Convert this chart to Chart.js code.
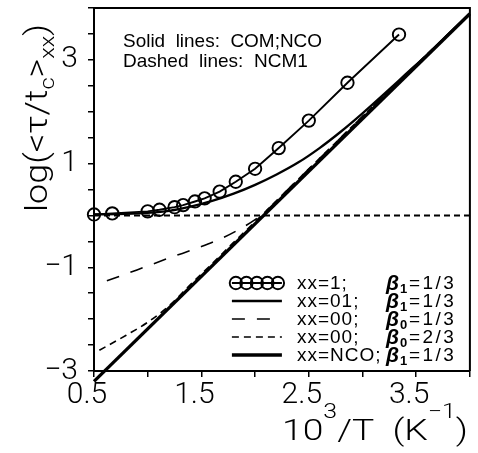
<!DOCTYPE html>
<html><head><meta charset="utf-8">
<script src="https://cdn.jsdelivr.net/npm/chart.js@4.4.0/dist/chart.umd.min.js"></script>
<style>html,body{margin:0;padding:0;background:#fff;}canvas{display:block;}</style>
</head><body>
<canvas id="c" width="478" height="453" style="width:478px;height:453px"></canvas>
<script>
// ---- data ----
const circleX = [0.5, 0.67, 1.0, 1.11, 1.25, 1.33, 1.44, 1.53, 1.67, 1.82, 2.0, 2.22, 2.50, 2.86, 3.34];
const circleY = [0.02, 0.04, 0.08, 0.11, 0.16, 0.20, 0.27, 0.33, 0.46, 0.65, 0.90, 1.30, 1.83, 2.56, 3.49];

const x01X = [0.5, 0.8, 1.0, 1.2, 1.4, 1.6, 1.8, 2.0, 2.2, 2.4, 2.6, 2.8, 3.0, 3.2, 3.4, 3.6, 3.8, 4.0];
const x01Y = [0.02, 0.03, 0.05, 0.09, 0.17, 0.28, 0.42, 0.59, 0.79, 1.02, 1.30, 1.62, 1.97, 2.34, 2.72, 3.10, 3.50, 3.90];

const longDashX = [0.62, 0.9, 1.2, 1.5, 1.7, 1.85, 2.0, 2.1, 2.3, 2.6, 3.0, 3.4, 3.8, 4.0];
const longDashY = [-1.26, -1.05, -0.82, -0.60, -0.43, -0.27, -0.08, 0.08, 0.49, 1.10, 1.91, 2.71, 3.50, 3.90];

const shortDashX = [0.55, 0.8, 1.0, 1.2, 1.4, 1.6, 1.8, 2.0, 2.3, 2.6, 3.0, 3.4, 3.8, 4.0];
const shortDashY = [-2.60, -2.31, -2.06, -1.74, -1.33, -0.93, -0.52, -0.12, 0.49, 1.10, 1.91, 2.71, 3.50, 3.90];

const ncoX = [0.5, 4.0];
const ncoY = [-3.2, 3.89];

const ncm1OneX = [0.5, 4.0];
const ncm1OneY = [0, 0];

const xTickLabels = {'0.5':'0.5','1.5':'1.5','2.5':'2.5','3.5':'3.5'};
const yTickLabels = {'3':'3','1':'1','-1':'\u22121','-3':'\u22123'};

const legendNames = ['xx=1;', 'xx=01;', 'xx=00;', 'xx=00;', 'xx=NCO;'];
const legendBetaSub = ['1', '1', '0', '0', '1'];
const legendBetaVal = ['=1/3', '=1/3', '=1/3', '=2/3', '=1/3'];
const noteLines = ['Solid  lines:  COM;NCO', 'Dashed  lines:  NCM1'];

const pts = (xs, ys) => xs.map((x, i) => ({x: x, y: ys[i]}));
const K = '#000';
const FONT = '"Liberation Sans", Arial, sans-serif';
const TICKFONT = {family: 'Roboto, "Liberation Sans", sans-serif', size: 30, weight: 300};

const datasets = [
  {data: pts(circleX, circleY), borderColor: K, borderWidth: 1.9, pointRadius: 6.2, pointHoverRadius: 6.2,
   pointBackgroundColor: 'rgba(0,0,0,0)', pointBorderColor: K, pointBorderWidth: 1.9, clip: false, legendIdx: 0},
  {data: pts(x01X, x01Y), borderColor: K, borderWidth: 2.3, pointRadius: 0, cubicInterpolationMode: 'monotone', legendIdx: 1},
  {data: pts(longDashX, longDashY), borderColor: K, borderWidth: 1.6, borderDash: [13, 12], pointRadius: 0, cubicInterpolationMode: 'monotone', legendIdx: 2},
  {data: pts(shortDashX, shortDashY), borderColor: K, borderWidth: 1.6, borderDash: [7, 5], pointRadius: 0, cubicInterpolationMode: 'monotone', legendIdx: 3},
  {data: pts(ncoX, ncoY), borderColor: K, borderWidth: 3.3, pointRadius: 0, clip: false, legendIdx: 4},
  {data: pts(ncm1OneX, ncm1OneY), borderColor: K, borderWidth: 2, borderDash: [6, 4], pointRadius: 0, legendIdx: -1}
];

function drawPieces(ctx, pieces, x, y, targetW) {
  let w = 0;
  pieces.forEach(p => { ctx.font = p.font; p.w = ctx.measureText(p.t).width + (p.gap || 0); w += p.w; });
  ctx.save();
  ctx.translate(x, y);
  if (targetW) ctx.scale(targetW / w, 1);
  let cx = 0;
  pieces.forEach(p => { ctx.font = p.font; ctx.fillText(p.t, cx, p.dy || 0); cx += p.w; });
  ctx.restore();
  return w;
}

const decor = {
  id: 'decor',
  afterDraw(chart) {
    const {ctx, chartArea: a} = chart;
    ctx.save();
    ctx.strokeStyle = K; ctx.fillStyle = K;
    ctx.lineWidth = 2;
    ctx.beginPath();
    ctx.moveTo(a.left, a.top); ctx.lineTo(a.right, a.top); ctx.lineTo(a.right, a.bottom);
    ctx.stroke();

    ctx.textBaseline = 'alphabetic'; ctx.textAlign = 'left';
    ctx.font = '19px ' + FONT;
    ctx.fillText(noteLines[0], a.left + 29, a.top + 39, 199);
    ctx.fillText(noteLines[1], a.left + 29, a.top + 59, 189);

    const rowY0 = a.bottom - 88, rowStep = 18;
    const sx0 = a.right - 238, sx1 = a.right - 188;
    chart.data.datasets.forEach(ds => {
      const i = ds.legendIdx;
      if (i < 0) return;
      const y = rowY0 + i * rowStep;
      ctx.save();
      ctx.lineWidth = ds.borderWidth;
      ctx.setLineDash(ds.borderDash || []);
      ctx.beginPath(); ctx.moveTo(sx0, y); ctx.lineTo(sx1, y); ctx.stroke();
      ctx.setLineDash([]);
      if (ds.pointRadius > 0) {
        ctx.lineWidth = ds.pointBorderWidth;
        for (let k = 0; k < 5; k++) {
          ctx.beginPath();
          ctx.arc(sx0 + 4 + k * 10.5, y, ds.pointRadius, 0, Math.PI * 2);
          ctx.stroke();
        }
      }
      ctx.restore();
      ctx.textBaseline = 'middle';
      ctx.font = '19px ' + FONT;
      ctx.letterSpacing = '1px';
      ctx.fillText(legendNames[i], a.right - 173, y + 1);
      ctx.letterSpacing = '0px';
      ctx.font = 'italic bold 21px ' + FONT;
      ctx.fillText('\u03B2', a.right - 84, y + 1);
      ctx.font = 'bold 13px ' + FONT;
      ctx.fillText(legendBetaSub[i], a.right - 70, y + 6);
      ctx.font = '19px ' + FONT;
      ctx.letterSpacing = '2.5px';
      ctx.fillText(legendBetaVal[i], a.right - 61, y + 1);
      ctx.letterSpacing = '0px';
    });

    ctx.textBaseline = 'alphabetic';
    const mainF = '300 30px Roboto, ' + FONT, supF = '300 20px Roboto, ' + FONT;
    drawPieces(ctx, [
      {t: '10', font: mainF}, {t: '3', font: supF, dy: -22},
      {t: '/T  (K', font: mainF}, {t: '\u22121', font: supF, dy: -22}, {t: ')', font: mainF}
    ], 282, 440, 186);

    ctx.save();
    ctx.translate(47, 118);
    ctx.rotate(-Math.PI / 2);
    const titleF = '300 32px Roboto, ' + FONT, titleSub = '300 21px Roboto, ' + FONT;
    const yp = [
      {t: 'log(<\u03C4/t', font: titleF}, {t: 'c', font: titleSub, dy: 7},
      {t: '>', font: titleF}, {t: 'xx', font: titleSub, dy: 7}, {t: ')', font: titleF}
    ];
    drawPieces(ctx, yp, -94, 0, 188);
    ctx.restore();
    ctx.restore();
  }
};

new Chart(document.getElementById('c'), {
  type: 'line',
  data: {datasets: datasets},
  options: {
    responsive: false, animation: false, events: [],
    layout: {padding: {top: 4, right: 7, left: 0, bottom: 0}},
    plugins: {legend: {display: false}, tooltip: {enabled: false}},
    elements: {line: {tension: 0}},
    scales: {
      x: {
        type: 'linear', min: 0.5, max: 4.0,
        afterFit(s) { s.height = 82; s.paddingLeft = 0; s.paddingRight = 0; },
        ticks: {stepSize: 0.5, autoSkip: false, maxRotation: 0, color: K, font: TICKFONT, padding: 0, labelOffset: -7,
          callback: v => xTickLabels[String(v)] || ''},
        grid: {drawOnChartArea: false, drawTicks: true, tickLength: 6, color: K, lineWidth: 1.5},
        border: {display: true, color: K, width: 2}
      },
      y: {
        type: 'linear', min: -3, max: 4,
        afterFit(s) { s.width = 94; s.paddingTop = 0; s.paddingBottom = 0; },
        ticks: {stepSize: 0.5, autoSkip: false, color: K, font: TICKFONT, padding: 10,
          callback: v => yTickLabels[String(v)] || ''},
        grid: {drawOnChartArea: false, drawTicks: true, tickLength: 6, color: K, lineWidth: 1.5},
        border: {display: true, color: K, width: 2}
      }
    }
  },
  plugins: [decor]
});
</script>
</body></html>
